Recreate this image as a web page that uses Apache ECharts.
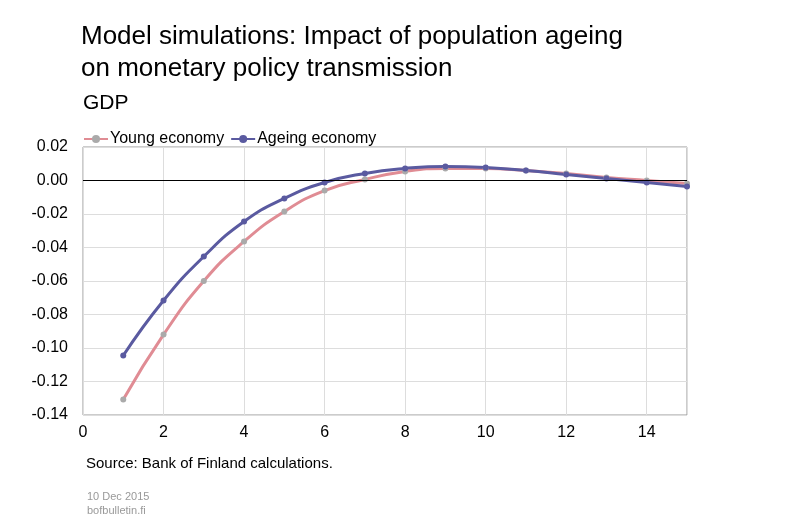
<!DOCTYPE html>
<html><head><meta charset="utf-8">
<script src="https://cdn.jsdelivr.net/npm/echarts@6/dist/echarts.min.js"></script>
<style>html,body{margin:0;padding:0;background:#fff}#c{width:800px;height:522px}</style>
</head><body><div id="c"></div>
<script>
const periods=[1,2,3,4,5,6,7,8,9,10,11,12,13,14,15];
const young=[-0.1307,-0.092,-0.060,-0.0364,-0.0185,-0.006,0.0006,0.0054,0.0072,0.0072,0.006,0.0042,0.0018,0.0,-0.0018];
const ageing=[-0.1045,-0.0716,-0.0454,-0.0245,-0.0107,-0.0012,0.0042,0.0072,0.0084,0.0078,0.006,0.0036,0.0012,-0.0012,-0.0036];
const F='Liberation Sans, Arial, sans-serif';
const ch=echarts.init(document.getElementById('c'));
ch.setOption({
 animation:false,
 textStyle:{fontFamily:F},
 title:[
  {text:'Model simulations: Impact of population ageing\non monetary policy transmission',left:76,top:16,textStyle:{fontFamily:F,fontSize:26,fontWeight:'normal',color:'#000',lineHeight:32}},
  {text:'GDP',left:78,top:88,textStyle:{fontFamily:F,fontSize:21,fontWeight:'normal',color:'#000'}},
  {text:'Source: Bank of Finland calculations.',left:81,top:451,textStyle:{fontFamily:F,fontSize:15,fontWeight:'normal',color:'#000'}},
  {text:'10 Dec 2015\nbofbulletin.fi',left:82,top:485,textStyle:{fontFamily:F,fontSize:11,fontWeight:'normal',color:'#999',lineHeight:14}}
 ],
 legend:{left:78,top:126,itemGap:6,itemWidth:24,itemHeight:10,textStyle:{fontFamily:F,fontSize:16,color:'#000',padding:[0,0,0,-3]},
  data:['Young economy','Ageing economy']},
 grid:{left:83,right:113,top:147,bottom:107,show:true,borderColor:'#999',borderWidth:1},
 xAxis:{type:'value',min:0,max:15,interval:2,
  axisLine:{show:false},axisTick:{show:false},
  splitLine:{lineStyle:{color:'#ddd'}},
  axisLabel:{fontFamily:F,fontSize:16,color:'#000',margin:10,showMaxLabel:false}},
 yAxis:{type:'value',min:-0.14,max:0.02,interval:0.02,
  axisLine:{show:false},axisTick:{show:false},
  splitLine:{lineStyle:{color:'#ddd'}},
  axisLabel:{fontFamily:F,fontSize:16,color:'#000',margin:15,formatter:v=>v.toFixed(2)}},
 series:[
  {name:'Young economy',type:'line',smooth:true,data:periods.map((p,i)=>[p,young[i]]),
   symbol:'circle',symbolSize:6,lineStyle:{color:'#e08c94',width:3},itemStyle:{color:'#aaa'},
   markLine:{silent:true,symbol:'none',label:{show:false},lineStyle:{color:'#000',width:1,type:'solid'},data:[{yAxis:0}]}},
  {name:'Ageing economy',type:'line',smooth:true,data:periods.map((p,i)=>[p,ageing[i]]),
   symbol:'circle',symbolSize:6,lineStyle:{color:'#5a5aa0',width:3},itemStyle:{color:'#5a5aa0'}}
 ]
});
</script></body></html>
